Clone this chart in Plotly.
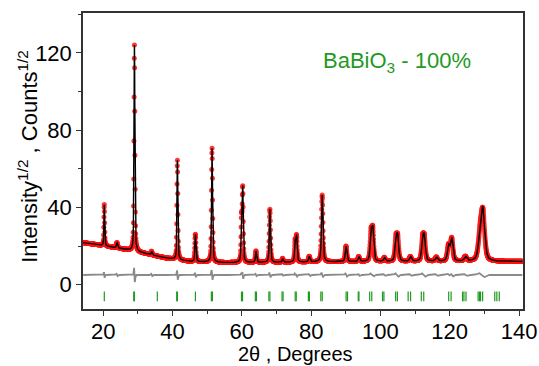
import numpy as np
import plotly.graph_objects as go

# ---- data ----
# background (2theta, sqrt-intensity)
bg_x = [14.0, 20.0, 27.0, 33.0, 38.0, 45.0, 55.0, 70.0, 90.0, 110.0, 141.5]
bg_y = [21.8, 20.2, 18.0, 15.8, 13.8, 12.0, 11.4, 11.5, 11.9, 12.0, 12.0]

# Bragg reflections: position, apex value, FWHM, residual amplitude
peak_pos = [20.3, 24.0, 29.0, 34.0, 41.4, 46.6, 51.4, 59.9, 60.25, 64.1, 68.1, 71.8,
            75.4, 75.8, 79.5, 83.2, 90.1, 93.8, 97.3, 97.8, 101.2, 104.5, 105.0, 108.7,
            112.2, 112.7, 116.2, 119.7, 120.6, 124.6, 128.8, 129.6]
peak_top = [41.5, 21.6, 124.0, 17.0, 64.4, 26.0, 70.5, 32.0, 49.4, 17.3, 39.0, 13.4,
            22.0, 24.5, 14.5, 46.3, 19.8, 14.3, 26.0, 27.5, 13.8, 23.0, 23.5, 14.3,
            22.5, 23.0, 14.0, 20.0, 23.5, 14.3, 24.0, 36.0]
peak_fwhm = [0.25, 0.4, 0.3, 0.4, 0.3, 0.35, 0.35, 0.3, 0.35, 0.4, 0.4, 0.4,
             0.4, 0.4, 0.5, 0.5, 0.55, 0.55, 0.6, 0.6, 0.6, 0.65, 0.65, 0.7,
             0.7, 0.7, 0.8, 0.8, 0.8, 0.9, 1.2, 1.2]
peak_resid = [1.5, 0.6, 3.8, 0.6, 2.5, 1.2, 2.5, 1.0, 2.0, 0.6, 1.2, 0.4,
              0.8, 0.8, 0.5, 1.2, 0.8, 0.5, 0.8, 0.8, 0.4, 0.8, 0.8, 0.4,
              0.8, 0.8, 0.4, 0.6, 0.8, 0.4, 0.8, 1.0]

# Bragg tick positions (green)
hkl_pos = [20.3, 28.8, 29.0, 35.6, 41.2, 41.4, 46.6, 51.2, 51.5, 59.9, 60.2,
           63.9, 64.2, 67.8, 68.1, 71.6, 71.9, 75.4, 75.7, 79.2, 79.5, 82.8, 83.2,
           90.1, 90.5, 93.6, 93.8, 96.9, 97.5, 100.6, 101.0, 104.4, 104.9,
           108.0, 108.7, 111.8, 112.5, 119.7, 120.4, 123.7, 124.1, 124.7,
           128.2, 128.6, 128.9, 129.5, 133.0, 133.6, 134.3]

diff_offset = 5.0
tick_level = -6.1

# ---- profile construction from the read peak table ----
x = np.arange(14.2, 141.0, 0.05)
bg = np.interp(x, bg_x, bg_y)
calc = bg.copy()
resid = np.zeros_like(x)
eta = 0.5
for p, top, w, r in zip(peak_pos, peak_top, peak_fwhm, peak_resid):
    h = top - np.interp(p, bg_x, bg_y)
    d = (x - p) / (w / 2)
    shape = eta / (1 + d ** 2) + (1 - eta) * np.exp(-np.log(2) * d ** 2)
    calc += h * shape
    s = w / 2.5
    resid += r * (-(x - p) / s) * np.exp(0.5 - (x - p) ** 2 / (2 * s ** 2))
obs = calc + resid
diff = diff_offset + resid

font_family = "Liberation Sans, Arial, sans-serif"
green = "#1f9a1f"

fig = go.Figure()
fig.add_trace(go.Scatter(x=x, y=obs, mode="markers",
                         marker=dict(color="rgba(255,20,20,0.85)", size=5, line=dict(width=0)),
                         showlegend=False))
fig.add_trace(go.Scatter(x=x, y=calc, mode="lines",
                         line=dict(color="black", width=1.4), showlegend=False))
fig.add_trace(go.Scatter(x=x, y=diff, mode="lines",
                         line=dict(color="#8a8a8a", width=1.8), showlegend=False))
fig.add_trace(go.Scatter(x=hkl_pos, y=[tick_level] * len(hkl_pos), mode="markers",
                         marker=dict(symbol="line-ns", size=7,
                                     line=dict(color=green, width=1.2)),
                         showlegend=False))

axis_common = dict(showline=True, mirror=True, linecolor="#333333", linewidth=1.5,
                   showgrid=False, zeroline=False, ticks="outside", ticklen=5,
                   tickwidth=1.3, tickcolor="#333333",
                   tickfont=dict(family=font_family, size=22, color="black"))

fig.update_xaxes(range=[14.15, 141.15], tick0=0, dtick=20, ticklabelstandoff=-3,
                 minor=dict(dtick=10, ticklen=3, ticks="outside", tickcolor="#333333", tickwidth=1.2),
                 **axis_common)
fig.update_yaxes(range=[-12.6, 140.6], tick0=0, dtick=40,
                 minor=dict(dtick=20, ticklen=3, ticks="outside", tickcolor="#333333", tickwidth=1.2),
                 **axis_common)

fig.update_layout(
    width=539, height=366,
    margin=dict(l=83, r=16, t=13, b=57, autoexpand=False),
    paper_bgcolor="white", plot_bgcolor="white",
    annotations=[
        dict(text="2θ , Degrees", xref="paper", yref="paper", x=0.483, y=-0.152,
             xanchor="center", yanchor="middle", showarrow=False,
             font=dict(family=font_family, size=20, color="black")),
        dict(text="Intensity<sup>1/2</sup> , Counts<sup>1/2</sup>", xref="paper", yref="paper",
             x=-0.125, y=0.514, xanchor="center", yanchor="middle", textangle=-90,
             showarrow=False, font=dict(family=font_family, size=22, color="black")),
        dict(text="BaBiO<sub>3</sub> - 100%", xref="paper", yref="paper",
             x=0.541, y=0.834, xanchor="left", yanchor="middle", showarrow=False,
             font=dict(family=font_family, size=22, color=green)),
    ],
)

fig.write_html("out.html")
